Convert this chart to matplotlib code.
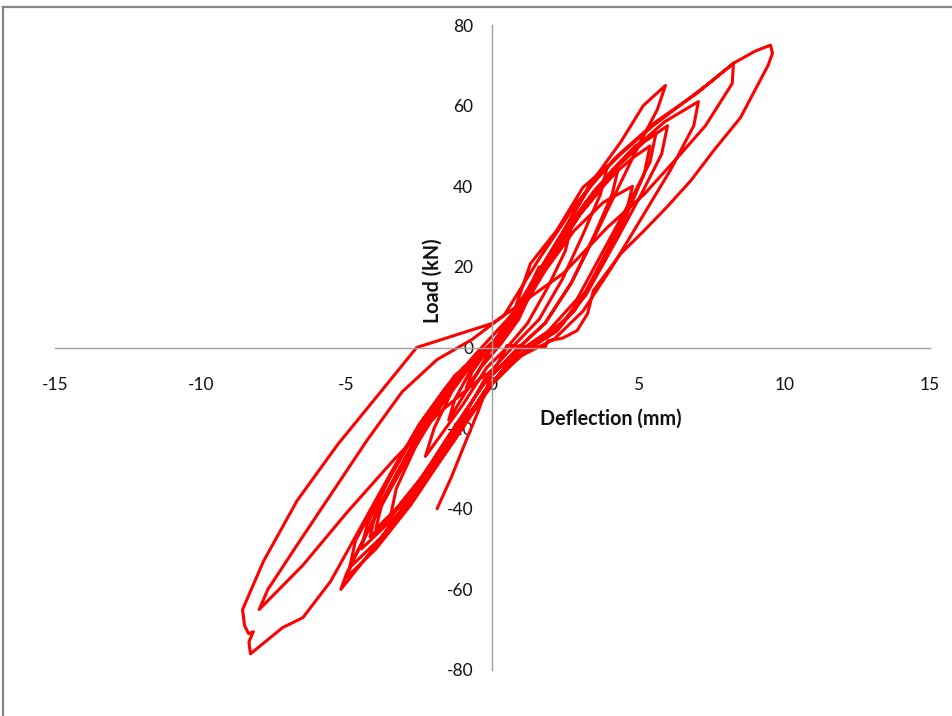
import matplotlib
matplotlib.use("Agg")
import matplotlib.pyplot as plt
from matplotlib.lines import Line2D

plt.rcParams["font.family"] = ["Lato", "DejaVu Sans"]

# Hysteresis record, one list of (deflection mm, load kN) per cycle
c1 = [(0, 0), (0.5, 5), (1.0, 12), (0.8, 8), (0.3, 2), (-0.1, -1), (-0.5, -6),
      (-0.9, -10), (-0.7, -6), (-0.2, -1)]
c2 = [(0.4, 4), (1.0, 11), (1.6, 20), (1.4, 15), (0.9, 7), (0.3, 1), (-0.4, -5),
      (-1.0, -12), (-1.5, -18), (-1.3, -13), (-0.7, -5), (-0.1, 0)]
c3 = [(0.5, 5), (1.3, 15), (2.0, 23), (2.7, 30), (2.5, 24), (1.9, 15), (1.2, 6),
      (0.5, 0), (-0.2, -5), (-1.0, -14), (-1.7, -21), (-2.3, -27), (-2.0, -20),
      (-1.4, -11), (-0.6, -3), (0.0, 0)]
c4 = [(0.6, 6), (1.3, 20.8), (2.2, 29), (3.1, 39.7), (3.94, 45), (3.7, 38),
      (3.1, 28), (2.4, 17), (1.6, 7), (0.8, 1), (-0.2, -7), (-1.2, -20),
      (-2.2, -31), (-3.0, -38), (-3.5, -42), (-3.3, -35), (-2.6, -24),
      (-1.7, -12), (-0.7, -3), (0.0, 0)]
c5 = [(0.8, 7), (1.8, 19), (2.8, 29), (3.8, 36), (4.8, 40), (4.6, 34), (4.0, 25),
      (3.2, 14), (2.3, 5), (1.3, 0), (0.1, -8), (-1.1, -19), (-2.3, -31),
      (-3.3, -40), (-4.0, -45), (-3.8, -39), (-3.0, -28), (-2.0, -15),
      (-1.0, -5), (0.1, 1)]
c5b = [(1.0, 10), (2.0, 22), (3.0, 33), (3.8, 40), (4.3, 44), (4.1, 38),
       (3.5, 28), (2.7, 16), (1.8, 6), (0.9, 0), (-0.3, -9), (-1.5, -22),
       (-2.6, -34), (-3.5, -42), (-4.2, -47), (-4.0, -41), (-3.2, -30),
       (-2.2, -17), (-1.1, -6), (0.1, 1)]
c6 = [(1.0, 10), (2.0, 22), (3.0, 33), (4.0, 42), (4.8, 47), (5.4, 50),
      (5.2, 43), (4.6, 33), (3.8, 21), (2.8, 9), (1.7, 2), (0.5, -4),
      (-0.7, -16), (-2.0, -30), (-3.2, -41), (-4.5, -50), (-4.3, -44),
      (-3.5, -32), (-2.5, -19), (-1.3, -7), (0.0, 1)]
c7 = [(1.0, 11), (2.1, 24), (3.2, 36), (4.3, 45), (5.2, 51), (6.0, 55),
      (5.8, 48), (5.1, 38), (4.2, 26), (3.2, 13), (2.2, 4), (1.1, -1),
      (0.0, -9), (-1.3, -23), (-2.6, -36), (-3.8, -47), (-4.9, -54.6),
      (-4.7, -48), (-3.9, -37), (-2.8, -23), (-1.7, -11), (-0.5, -1)]
c7b = [(0.9, 10), (2.0, 23), (3.1, 35), (4.1, 44), (4.9, 50), (5.6, 53),
       (5.4, 46), (4.7, 36), (3.8, 24), (2.9, 12), (1.9, 4), (0.9, -1),
       (-0.3, -11), (-1.5, -25), (-2.8, -39), (-4.0, -50), (-5.0, -57),
       (-4.8, -53), (-4.1, -43), (-3.1, -30), (-2.0, -17), (-0.9, -5),
       (0.2, 1)]
c8 = [(0.6, 6), (1.6, 19), (2.6, 31), (3.6, 43), (4.4, 51), (5.17, 60),
      (5.93, 65), (5.65, 59), (5.07, 51), (4.4, 41), (3.6, 29), (2.7, 16),
      (1.8, 6), (0.9, 0), (-0.3, -9), (-1.6, -23), (-2.9, -38), (-4.1, -50),
      (-5.2, -60), (-5.0, -56), (-4.3, -46), (-3.3, -32), (-2.2, -18),
      (-1.1, -6), (0.1, 2)]
c9 = [(1.0, 12), (2.2, 26), (3.5, 39), (4.8, 49), (5.9, 56), (7.06, 61),
      (6.9, 55), (6.1, 44), (5.1, 32), (4.1, 20), (3.1, 9), (2.1, 2), (1.0, -2),
      (-0.3, -7), (-1.8, -16), (-3.4, -28), (-5.0, -41), (-6.5, -54),
      (-8.0, -65), (-7.7, -60), (-6.7, -49), (-5.5, -36), (-4.3, -23),
      (-3.1, -11), (-1.9, -3), (-0.7, 2)]
c10 = [(0.4, 8), (1.6, 22), (2.9, 36), (4.2, 47), (5.6, 56), (7.0, 63),
       (8.26, 70.5), (8.22, 65.5), (7.3, 55), (6.45, 48), (5.2, 38),
       (3.94, 29.8), (2.43, 18.4), (1.0, 11), (0.0, 6), (-1.3, 3), (-2.6, 0),
       (-3.8, -10.7), (-5.3, -24), (-6.7, -38), (-7.85, -53), (-8.57, -65),
       (-8.5, -69), (-8.36, -71), (-8.2, -70.5), (-8.35, -73), (-8.3, -76),
       (-7.2, -69.5), (-6.5, -67), (-5.55, -58), (-4.4, -43), (-3.4, -30),
       (-2.5, -19), (-1.6, -10), (-0.7, -3), (0.3, 2)]
c11 = [(1.2, 14), (2.3, 27), (3.3, 40), (4.4, 48), (5.5, 55), (6.6, 61),
       (7.5, 66), (8.26, 70.5), (9.0, 73.5), (9.53, 75), (9.6, 73), (9.45, 70),
       (8.5, 57), (7.6, 49), (6.8, 41.4), (6.0, 35), (5.2, 29), (4.4, 23.3),
       (3.46, 14.1), (3.26, 8.4), (2.9, 4.2), (2.4, 2.3), (1.9, 1.7), (1.8, 0),
       (0.5, 0.5), (-0.1, -8), (-0.5, -16), (-0.9, -23), (-1.4, -32),
       (-1.9, -40)]
cycles = [c1, c2, c3, c4, c5, c5b, c6, c7, c7b, c8, c9, c10, c11]

x_ticks = [-15, -10, -5, 0, 5, 10, 15]
y_ticks = [-80, -60, -40, -20, 0, 20, 40, 60, 80]

RED = "#ff0000"
AXIS_GRAY = "#a0a0a0"
TEXT = "#111111"

fig = plt.figure(figsize=(9.53, 7.16), dpi=100)
ax = fig.add_axes([55 / 953, 46 / 716, 875 / 953, 645 / 716])

defl = [p[0] for cyc in cycles for p in cyc]
load = [p[1] for cyc in cycles for p in cyc]
ax.plot(defl, load, color=RED, linewidth=2.2, solid_joinstyle="round",
        solid_capstyle="round")

ax.set_xlim(-15, 15)
ax.set_ylim(-80, 80)
ax.set_xticks(x_ticks)
ax.set_yticks(y_ticks)
ax.set_xticklabels([str(v) for v in x_ticks])
ax.set_yticklabels([str(v) for v in y_ticks])

# axes crossing at origin, Excel-like
for side in ("top", "right"):
    ax.spines[side].set_visible(False)
ax.spines["left"].set_position(("data", 0))
ax.spines["bottom"].set_position(("data", 0))
for side in ("left", "bottom"):
    ax.spines[side].set_color(AXIS_GRAY)
    ax.spines[side].set_linewidth(1.0)
ax.tick_params(axis="x", length=0, pad=21, labelsize=12.5, colors=TEXT)
ax.tick_params(axis="y", length=0, pad=14, labelsize=12.5, colors=TEXT)

ax.text(-2.06, 16.6, "Load (kN)", rotation=90, ha="center", va="center",
        fontsize=14.2, fontweight="bold", color=TEXT)
ax.text(4.05, -17.6, "Deflection (mm)", ha="center", va="center",
        fontsize=14.2, fontweight="bold", color=TEXT)

# chart-area frame (only top and left edges visible)
fig.add_artist(Line2D([3 / 953, 3 / 953], [0, 1 - 7 / 716],
                      transform=fig.transFigure, color="#868686", linewidth=1.6))
fig.add_artist(Line2D([3 / 953, 1], [1 - 7 / 716, 1 - 7 / 716],
                      transform=fig.transFigure, color="#868686", linewidth=1.6))

fig.savefig("out.png", dpi=100, facecolor="white")
